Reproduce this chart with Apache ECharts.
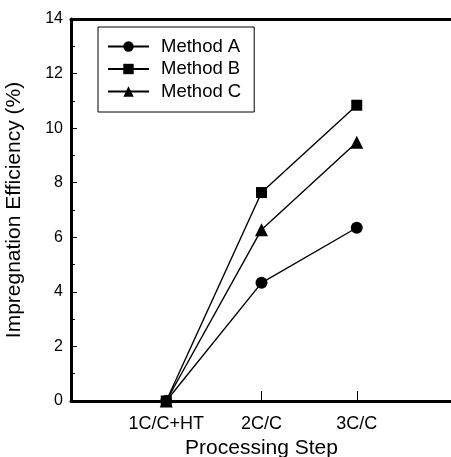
<!DOCTYPE html>
<html><head><meta charset="utf-8">
<script src="https://cdn.jsdelivr.net/npm/echarts@6/dist/echarts.min.js"></script>
<style>html,body{margin:0;padding:0;background:#fff;}#c{width:451px;height:457px;}</style>
</head><body><div id="c"></div>
<script>
var categories = ['1C/C+HT', '2C/C', '3C/C'];
var methodA = [0, 4.33, 6.35];
var methodB = [0, 7.64, 10.84];
var methodC = [0, 6.28, 9.48];
var seriesNames = ['Method A', 'Method B', 'Method C'];
var yTicks = [0, 2, 4, 6, 8, 10, 12, 14];

var font = 'Liberation Sans, Arial, sans-serif';
function mk(name, data, sym, size) {
  return {
    name: name, type: 'line',
    data: data.map(function (v, i) { return [i, v]; }),
    symbol: sym, symbolSize: size,
    lineStyle: { color: '#000', width: 1.4 },
    itemStyle: { color: '#000' },
    z: 3
  };
}
var chart = echarts.init(document.getElementById('c'));
chart.setOption({
  animation: false,
  backgroundColor: '#fff',
  grid: { left: 71, right: -1, top: 19, bottom: 56, containLabel: false, outerBoundsMode: 'none' },
  legend: {
    orient: 'vertical', left: 98, top: 27,
    data: seriesNames,
    itemWidth: 41, itemHeight: 13, itemGap: 3.5,
    padding: [10, 13, 11, 9],
    borderColor: '#000', borderWidth: 1,
    textStyle: { fontFamily: font, fontSize: 18.5, color: '#000', padding: [0, 0, 0, 7] }
  },
  xAxis: [{
    type: 'value', min: -1, max: 3, interval: 1,
    name: 'Processing Step', nameLocation: 'middle', nameGap: 29,
    nameTextStyle: { fontFamily: font, fontSize: 21, color: '#000' },
    axisLine: { onZero: false, lineStyle: { color: '#000', width: 3 } },
    axisTick: { inside: true, length: 10, customValues: [1, 2], lineStyle: { color: '#000', width: 1 } },
    axisLabel: {
      fontFamily: font, fontSize: 18, color: '#000', margin: 14,
      customValues: [0, 1, 2],
      formatter: function (v) { return categories[Math.round(v)] || ''; }
    },
    splitLine: { show: false }
  }, {
    type: 'value', position: 'top', min: -1, max: 3,
    axisLine: { onZero: false, lineStyle: { color: '#000', width: 3 } },
    axisTick: { show: false }, axisLabel: { show: false }, splitLine: { show: false }
  }],
  yAxis: {
    type: 'value', min: yTicks[0], max: yTicks[yTicks.length - 1], interval: 2,
    name: 'Impregnation Efficiency (%)', nameLocation: 'middle', nameGap: 46,
    nameTextStyle: { fontFamily: font, fontSize: 21, color: '#000' },
    axisLine: { onZero: false, lineStyle: { color: '#000', width: 3 } },
    axisTick: { inside: true, length: 6, lineStyle: { color: '#000' } },
    minorTick: { show: true, splitNumber: 2, length: 4, lineStyle: { color: '#000' } },
    axisLabel: { fontFamily: font, fontSize: 16, color: '#000', margin: 8 },
    splitLine: { show: false }
  },
  series: [
    mk(seriesNames[0], methodA, 'circle', 12),
    mk(seriesNames[1], methodB, 'rect', 11),
    mk(seriesNames[2], methodC, 'triangle', 13)
  ]
});
</script></body></html>
